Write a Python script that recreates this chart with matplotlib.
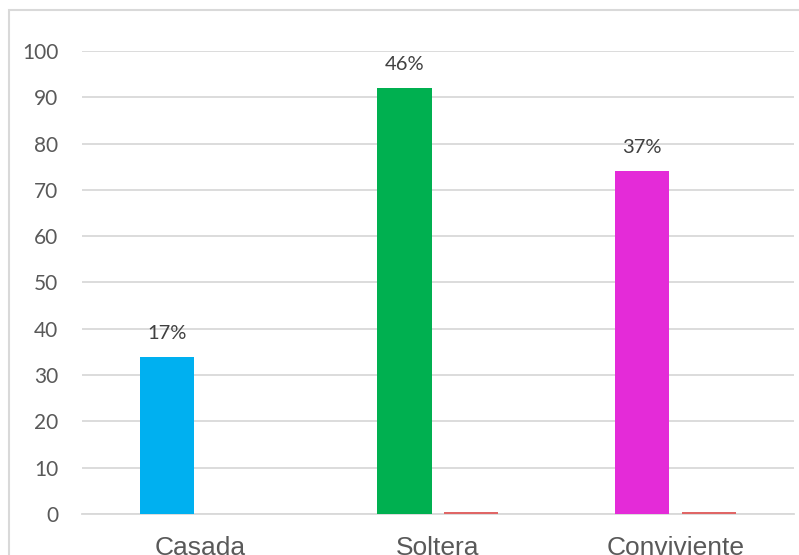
import matplotlib.pyplot as plt
import numpy as np
from matplotlib.patches import Rectangle

# Estado civil: conteos y una segunda serie casi vacía
categorias = ["Casada", "Soltera", "Conviviente"]
cantidad = [34, 92, 74]
otra_serie = [0, 0.35, 0.35]
colores = ["#00B0F0", "#00B050", "#E42BD8"]

total = sum(cantidad)
porcentajes = [round(v / total * 100) for v in cantidad]

fig = plt.figure(figsize=(7.99, 5.55), dpi=100)
ax = fig.add_axes([0.1026, 0.0739, 0.8911, 0.8342])

# marco gris del gráfico
fig.patches.append(Rectangle((9 / 799, -0.2), 1.2, 1.2 - 9.5 / 555,
                             transform=fig.transFigure, fill=False,
                             edgecolor="#D9D9D9", linewidth=1.5))

x = np.arange(len(categorias))
ancho = 0.228
desp = 0.141

barras = ax.bar(x - desp, cantidad, ancho, color=colores, zorder=3)
ax.bar(x + desp, otra_serie, ancho, color="#E06666", zorder=3)

for b, p in zip(barras, porcentajes):
    ax.annotate(f"{p}%", (b.get_x() + b.get_width() / 2, b.get_height()),
                xytext=(0, 13), textcoords="offset points", ha="center",
                va="baseline", fontsize=14.5, color="#404040", family="Lato")

ax.set_xlim(-0.5, 2.5)
ax.set_ylim(0, 100)
ax.set_yticks(range(0, 101, 10))
ax.set_xticks(x)
ax.set_xticklabels(categorias, fontsize=19, color="#595959",
                   family="Liberation Sans")
for t in ax.get_yticklabels():
    t.set_family("Lato")
    t.set_fontsize(15)
    t.set_color("#595959")

ax.tick_params(axis="y", length=0, pad=17)
ax.tick_params(axis="x", length=0, pad=16)
ax.grid(axis="y", color="#D9D9D9", linewidth=1.3, zorder=0)
for s in ["top", "right", "left"]:
    ax.spines[s].set_visible(False)
ax.spines["bottom"].set_color("#D9D9D9")
ax.spines["bottom"].set_linewidth(1.3)

plt.savefig("out.png", dpi=100)
